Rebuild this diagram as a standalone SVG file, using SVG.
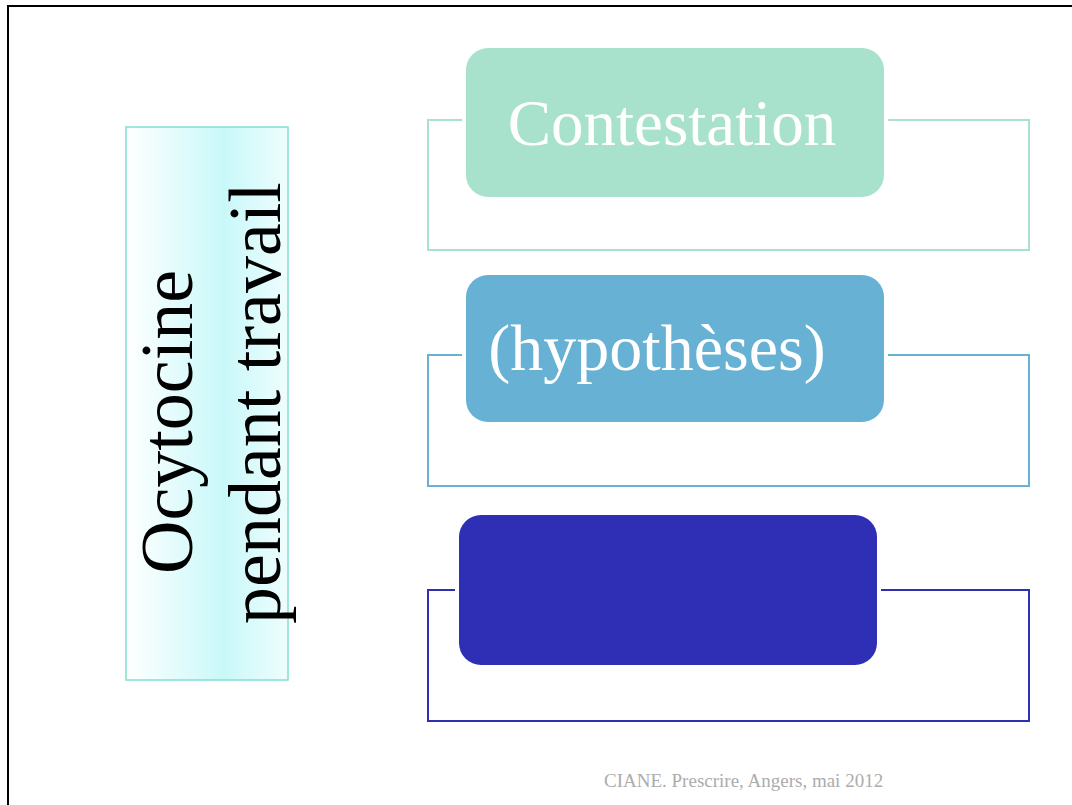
<svg xmlns="http://www.w3.org/2000/svg" width="1072" height="805" viewBox="0 0 1072 805">
<style>
.frame{fill:none;stroke-width:2}
.gap{fill:#ffffff}
.lbl{font-family:"Liberation Serif","Times New Roman",serif;font-size:65px;fill:#ffffff;text-anchor:middle}
.side{font-family:"Liberation Serif","Times New Roman",serif;font-size:74px;fill:#000000;text-anchor:middle}
.foot{font-family:"Liberation Serif","Times New Roman",serif;font-size:19px;fill:#acacac}
</style>
<defs>
<linearGradient id="g" x1="0" y1="0" x2="1" y2="0">
<stop offset="0" stop-color="#ffffff"/>
<stop offset="0.6" stop-color="#c9f8f9"/>
<stop offset="1" stop-color="#eefdfd"/>
</linearGradient>
</defs>
<rect width="1072" height="805" fill="#ffffff"/>
<path d="M8 805 V6 H1072" fill="none" stroke="#000000" stroke-width="2"/>
<g id="connectors">
<rect class="frame" x="428" y="120" width="601" height="130" stroke="#a8e2cc"/>
<rect class="frame" x="428" y="355" width="601" height="131" stroke="#67b2d4"/>
<rect class="frame" x="428" y="590" width="601" height="131" stroke="#2e2fb5"/>
</g>
<g id="side">
<rect x="126" y="127" width="162" height="553" fill="url(#g)" stroke="#80e0cc" stroke-width="1.5"/>
<text class="side" transform="translate(192,422) rotate(-90)">Ocytocine</text>
<text class="side" transform="translate(280,403) rotate(-90)">pendant travail</text>
</g>
<g id="n1">
<rect class="gap" x="462" y="44" width="426" height="157" rx="26"/>
<rect x="466" y="48" width="418" height="149" rx="22" fill="#a8e2cc"/>
<text class="lbl" x="672" y="145">Contestation</text>
</g>
<g id="n2">
<rect class="gap" x="462" y="271" width="426" height="155" rx="26"/>
<rect x="466" y="275" width="418" height="147" rx="22" fill="#67b2d4"/>
<text class="lbl" x="657" y="370" style="font-size:66px">(hypothèses)</text>
</g>
<g id="n3">
<rect class="gap" x="455" y="511" width="426" height="158" rx="26"/>
<rect x="459" y="515" width="418" height="150" rx="22" fill="#2e2fb5"/>
</g>
<text class="foot" x="604" y="787">CIANE. Prescrire, Angers, mai 2012</text>
</svg>
